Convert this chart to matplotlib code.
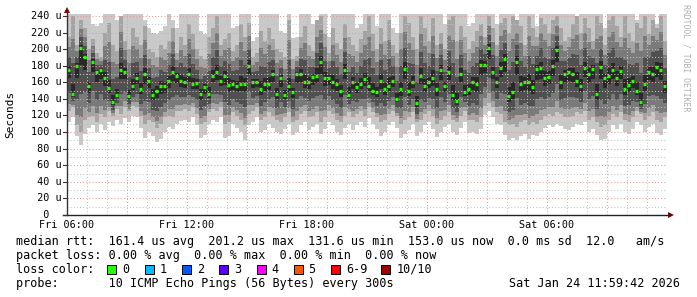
import matplotlib
matplotlib.use('Agg')
import matplotlib.pyplot as plt
from matplotlib.patches import Rectangle, Polygon
from matplotlib.lines import Line2D

# 150 columns, 12 minutes each, Fri 06:00 -> Sat 12:00 (values in microseconds)
median = [175, 146, 180, 201, 190, 155, 185, 172, 175, 165, 153, 136, 145, 175, 172, 144, 155, 165, 152, 170, 162, 145, 150, 155, 155,
          162, 173, 168, 162, 160, 170, 158, 159, 146, 154, 146, 168, 172, 162, 168, 157, 158, 155, 158, 158, 180, 160, 160, 152, 158,
          158, 170, 146, 165, 145, 155, 148, 170, 170, 160, 161, 166, 168, 185, 165, 165, 160, 158, 150, 175, 145, 160, 154, 158, 164,
          155, 150, 148, 162, 152, 156, 162, 140, 152, 176, 150, 160, 135, 168, 155, 160, 165, 152, 175, 155, 172, 145, 138, 170, 148,
          152, 160, 158, 181, 181, 201, 172, 160, 177, 188, 144, 148, 185, 158, 160, 160, 154, 176, 177, 165, 167, 180, 199, 160, 170,
          172, 170, 162, 155, 177, 170, 176, 146, 179, 165, 168, 175, 165, 174, 152, 157, 162, 150, 136, 158, 173, 170, 179, 175, 155]

# slowest ping of each column (clipped at the top of the graph)
ping_max = [242, 242, 242, 242, 242, 242, 230, 228, 232, 242, 242, 242, 235, 230, 242, 242, 242, 242, 242, 235, 225, 220, 218, 222, 228,
            242, 235, 225, 242, 242, 242, 242, 242, 222, 218, 242, 242, 242, 242, 242, 242, 225, 228, 242, 242, 242, 210, 215, 242, 242,
            242, 242, 242, 222, 220, 242, 213, 215, 242, 242, 242, 230, 228, 242, 242, 215, 242, 242, 242, 242, 242, 242, 225, 230, 242,
            242, 242, 228, 242, 242, 242, 225, 220, 242, 242, 242, 242, 242, 242, 242, 242, 242, 242, 242, 230, 242, 242, 242, 242, 242,
            228, 232, 242, 242, 242, 242, 242, 230, 242, 242, 242, 242, 235, 242, 242, 242, 242, 228, 242, 242, 242, 242, 242, 242, 242,
            242, 242, 232, 242, 242, 242, 242, 242, 242, 226, 242, 242, 242, 242, 242, 242, 242, 235, 242, 242, 242, 242, 230, 242, 242]

# second slowest ping
ping_hi2 = [215, 240, 205, 235, 225, 200, 212, 195, 190, 220, 232, 205, 198, 240, 210, 200, 225, 215, 205, 228, 200, 196, 190, 205, 200,
            210, 225, 195, 215, 205, 230, 218, 200, 192, 188, 215, 225, 240, 205, 212, 220, 198, 205, 230, 215, 232, 190, 195, 222, 210,
            225, 212, 200, 196, 190, 235, 188, 192, 215, 228, 205, 198, 235, 240, 218, 195, 225, 208, 200, 230, 215, 205, 198, 212, 222,
            240, 218, 200, 225, 210, 235, 205, 195, 220, 240, 232, 215, 200, 240, 225, 210, 238, 205, 220, 200, 235, 240, 210, 228, 215,
            200, 210, 222, 230, 215, 240, 225, 205, 232, 238, 220, 240, 235, 228, 205, 240, 225, 215, 238, 230, 220, 235, 240, 225, 210,
            215, 230, 240, 220, 238, 225, 210, 240, 232, 205, 235, 240, 228, 215, 240, 220, 210, 232, 225, 240, 218, 235, 225, 240, 210]

# second fastest ping
ping_lo2 = [125, 130, 108, 100, 115, 118, 120, 112, 122, 118, 125, 120, 128, 122, 130, 125, 132, 130, 120, 110, 115, 112, 105, 110, 118,
            120, 118, 125, 126, 128, 125, 130, 122, 110, 112, 124, 128, 125, 130, 110, 112, 124, 120, 115, 108, 122, 126, 130, 115, 118,
            124, 120, 115, 112, 118, 124, 112, 115, 122, 126, 118, 120, 124, 112, 118, 126, 122, 115, 112, 120, 124, 118, 122, 126, 120,
            130, 124, 118, 112, 115, 122, 126, 120, 110, 114, 118, 124, 112, 115, 122, 126, 120, 110, 115, 120, 124, 115, 112, 120, 126,
            114, 115, 112, 118, 132, 135, 130, 124, 122, 112, 108, 110, 106, 112, 114, 108, 112, 110, 115, 120, 122, 120, 124, 122, 118,
            118, 120, 124, 122, 126, 115, 118, 112, 106, 108, 115, 122, 118, 124, 115, 112, 118, 126, 122, 115, 120, 124, 114, 112, 118]

# fastest ping
ping_min = [112, 118, 95, 84, 98, 105, 108, 100, 110, 102, 112, 107, 115, 110, 117, 112, 120, 118, 105, 93, 100, 95, 88, 92, 100,
            106, 104, 110, 113, 115, 112, 118, 108, 93, 96, 110, 114, 112, 118, 93, 95, 110, 105, 100, 91, 108, 112, 118, 100, 102,
            110, 105, 100, 98, 104, 110, 96, 100, 108, 112, 102, 106, 110, 98, 104, 112, 108, 100, 96, 105, 110, 102, 108, 112, 106,
            117, 110, 104, 95, 100, 108, 112, 105, 93, 98, 102, 110, 95, 100, 108, 112, 104, 94, 100, 106, 110, 100, 96, 105, 112,
            99, 100, 98, 104, 121, 125, 118, 110, 108, 96, 91, 93, 90, 95, 98, 92, 96, 95, 100, 105, 108, 106, 110, 107, 104,
            103, 106, 110, 108, 112, 100, 104, 96, 91, 92, 100, 108, 104, 110, 100, 98, 104, 112, 108, 100, 106, 110, 99, 96, 104]

x_labels = ['Fri 06:00', 'Fri 12:00', 'Fri 18:00', 'Sat 00:00', 'Sat 06:00']
y_ticks = [0, 20, 40, 60, 80, 100, 120, 140, 160, 180, 200, 220, 240]

loss_labels = ['0', '1', '2', '3', '4', '5', '6-9', '10/10']
loss_colors = ['#26ff00', '#00b8ff', '#0059ff', '#5e00ff', '#ff00ff', '#ff5500', '#ff0000', '#a00000']

W, H = 697, 297
MONO = 'DejaVu Sans Mono'

def fx(x):
    return x / W

def fy(y):
    return 1 - y / H

fig = plt.figure(figsize=(W / 100, H / 100), dpi=100)
fig.patch.set_facecolor('white')
ax = fig.add_axes([fx(67), fy(215), 600 / W, 201 / H])
ytop = 201 / (199 / 240)
ax.set_xlim(0, len(median))
ax.set_ylim(0, ytop)
ax.axis('off')
cols = list(range(len(median)))

def band(tops, bots, shade):
    ax.bar(cols, [t - b for t, b in zip(tops, bots)], bottom=bots, width=1.0, align='edge',
           color=shade, linewidth=0, antialiased=False, zorder=1)

# smoke: outer bands from the pings, inner ones shaded towards the median
band(ping_max, ping_min, '#c9c9c9')
band(ping_hi2, ping_lo2, '#a4a4a4')
for shade, fu, fl in [('#7a7a7a', 0.7, 0.82), ('#505050', 0.4, 0.55), ('#282828', 0.13, 0.2)]:
    band([m + (h - m) * fu for m, h in zip(median, ping_hi2)],
         [m - (m - l) * fl for m, l in zip(median, ping_lo2)], shade)

# median markers
ax.hlines(median, [c + 0.1 for c in cols], [c + 0.85 for c in cols], colors='#26ff00',
          linewidth=2.4, zorder=2)

# grid on top of the smoke
for v in range(10, 241, 10):
    col = '#e49a9a' if v % 20 == 0 else '#c4c4c4'
    ax.plot([0, len(median)], [v, v], color=col, lw=0.75, ls=(0, (1, 2)), zorder=3)
for c in range(5, len(median), 5):
    col = '#e49a9a' if c % 15 == 0 else '#c4c4c4'
    ax.plot([c, c], [0, ytop], color=col, lw=0.75, ls=(0, (1, 2)), zorder=3)

# axes with arrows
fig.add_artist(Line2D([fx(67), fx(67)], [fy(215), fy(11)], color='#333333', lw=1.0))
fig.add_artist(Line2D([fx(63), fx(670)], [fy(215), fy(215)], color='#222222', lw=1.0))
fig.add_artist(Polygon([(fx(64), fy(13)), (fx(70), fy(13)), (fx(67), fy(7))], closed=True,
                       color='#7f0000', lw=0))
fig.add_artist(Polygon([(fx(668), fy(212)), (fx(668), fy(218)), (fx(674), fy(215))], closed=True,
                       color='#7f0000', lw=0))

# y tick labels
for v in y_ticks:
    yp = 215 - v * 199 / 240
    lab = '%3d u' % v if v else '  0  '
    fig.text(fx(31), fy(yp), lab, family=MONO, fontsize=7.3, ha='left', va='center')
    fig.add_artist(Line2D([fx(63), fx(67)], [fy(yp), fy(yp)], color='#333333', lw=0.8))

# x tick labels
for k, lab in enumerate(x_labels):
    fig.text(fx(67 + 120 * k), fy(224.5), lab, family=MONO, fontsize=7.3, ha='center', va='center')

fig.text(fx(10), fy(114), 'Seconds', family=MONO, fontsize=8, rotation=90, ha='center', va='center')
fig.text(fx(686), fy(4), 'RRDTOOL / TOBI OETIKER', family=MONO, fontsize=5.9, rotation=270,
         ha='center', va='top', color='#b0b0b0')

# legend
fs = 8.5
fig.text(fx(16), fy(241.5), 'median rtt:  161.4 us avg  201.2 us max  131.6 us min  153.0 us now  0.0 ms sd  12.0   am/s',
         family=MONO, fontsize=fs, va='center')
fig.text(fx(16), fy(255.5), 'packet loss: 0.00 % avg  0.00 % max  0.00 % min  0.00 % now',
         family=MONO, fontsize=fs, va='center')
fig.text(fx(16), fy(269.5), 'loss color:', family=MONO, fontsize=fs, va='center')
box_x = [111.7, 149, 186.3, 223.5, 261, 298, 335.3, 385.7]
for bx, lab, c in zip(box_x, loss_labels, loss_colors):
    fig.add_artist(Rectangle((fx(bx - 4.5), fy(273.5)), 9 / W, 9 / H, facecolor=c,
                             edgecolor='black', lw=0.7))
    fig.text(fx(bx + 10.5), fy(269.5), lab, family=MONO, fontsize=fs, va='center')
fig.text(fx(16), fy(283.5), 'probe:       10 ICMP Echo Pings (56 Bytes) every 300s',
         family=MONO, fontsize=fs, va='center')
fig.text(fx(680), fy(283.5), 'Sat Jan 24 11:59:42 2026', family=MONO, fontsize=fs, va='center', ha='right')

fig.savefig('out.png', dpi=100, facecolor='white')
